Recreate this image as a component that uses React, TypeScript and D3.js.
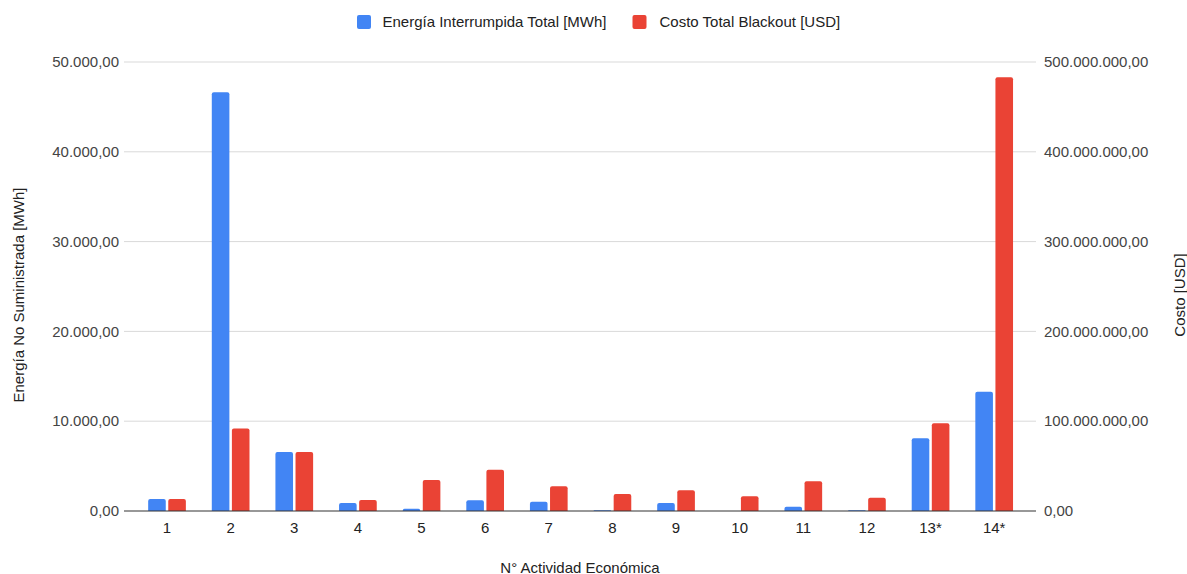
import React from "react";
import * as d3 from "d3";

// Economic activity categories (N° Actividad Económica)
const categories = ["1", "2", "3", "4", "5", "6", "7", "8", "9", "10", "11", "12", "13*", "14*"];

// Energía Interrumpida Total [MWh] (left axis)
const energyMWh = [1340, 46630, 6570, 890, 250, 1190, 1040, 80, 890, 0, 480, 80, 8100, 13290];

// Costo Total Blackout [USD] (right axis)
const costUSD = [
  13400000, 92000000, 65700000, 12200000, 34500000, 46000000, 27500000,
  19000000, 23000000, 16300000, 33000000, 14800000, 97600000, 483000000,
];

const leftTicks = [0, 10000, 20000, 30000, 40000, 50000];
const rightTicks = [0, 100000000, 200000000, 300000000, 400000000, 500000000];

const seriesNames = ["Energía Interrumpida Total [MWh]", "Costo Total Blackout [USD]"];
const seriesColors = ["#4285F4", "#EA4335"];

const W = 1187;
const H = 574;
const FONT = "'Liberation Sans', Arial, sans-serif";
const FS = 15;

// Spanish number format: "." thousands, "," decimals
const fmt = d3.formatLocale({
  decimal: ",",
  thousands: ".",
  grouping: [3],
  currency: ["$", ""],
}).format(",.2f");

function barPath(x: number, y: number, w: number, h: number, r: number) {
  if (h <= 0) return "";
  const rr = Math.min(r, h, w / 2);
  return `M${x},${y + h}V${y + rr}Q${x},${y} ${x + rr},${y}H${x + w - rr}Q${x + w},${y} ${x + w},${y + rr}V${y + h}Z`;
}

export default function App() {
  const plotLeft = 135.2;
  const plotRight = 1026;
  const gridLeft = 124;
  const gridRight = 1036;
  const top = 62;
  const bottom = 511;

  const x = d3.scaleBand<string>().domain(categories).range([plotLeft, plotRight]).paddingInner(0).paddingOuter(0);
  const yL = d3.scaleLinear().domain([0, 50000]).range([bottom, top]);
  const yR = d3.scaleLinear().domain([0, 500000000]).range([bottom, top]);

  const groupW = 37.7;
  const barW = 17.6;
  const gap = groupW - 2 * barW;

  return (
    <svg
      width={W}
      height={H}
      style={{ position: "absolute", left: 0, top: 0, background: "#fff" }}
      fontFamily={FONT}
    >
      <rect width={W} height={H} fill="#fff" />

      {/* legend */}
      <g fontSize={FS} fill="#222">
        <rect x={357} y={15} width={14} height={14} rx={2} fill={seriesColors[0]} />
        <text x={382.5} y={27}>{seriesNames[0]}</text>
        <rect x={632.5} y={15} width={14} height={14} rx={2} fill={seriesColors[1]} />
        <text x={659.5} y={27}>{seriesNames[1]}</text>
      </g>

      {/* gridlines */}
      {leftTicks.slice(1).map((t) => (
        <line key={t} x1={gridLeft} x2={gridRight} y1={yL(t)} y2={yL(t)} stroke="#d9d9d9" strokeWidth={1} />
      ))}

      {/* bars */}
      {categories.map((c, i) => {
        const cx = (x(c) as number) + x.bandwidth() / 2;
        const x0 = cx - groupW / 2;
        const hE = bottom - yL(energyMWh[i]);
        const hC = bottom - yR(costUSD[i]);
        return (
          <g key={c}>
            <path d={barPath(x0, yL(energyMWh[i]), barW, hE, 2)} fill={seriesColors[0]} />
            <path d={barPath(x0 + barW + gap, yR(costUSD[i]), barW, hC, 2)} fill={seriesColors[1]} />
          </g>
        );
      })}

      {/* baseline */}
      <line x1={gridLeft} x2={gridRight} y1={bottom} y2={bottom} stroke="#333" strokeWidth={1.2} />

      {/* left axis labels */}
      <g fontSize={FS} fill="#444" textAnchor="end">
        {leftTicks.map((t) => (
          <text key={t} x={119} y={yL(t) + 5.2}>{fmt(t)}</text>
        ))}
      </g>

      {/* right axis labels */}
      <g fontSize={FS} fill="#444" textAnchor="start">
        {rightTicks.map((t) => (
          <text key={t} x={1044} y={yR(t) + 5.2}>{fmt(t)}</text>
        ))}
      </g>

      {/* category labels */}
      <g fontSize={FS} fill="#222" textAnchor="middle">
        {categories.map((c) => (
          <text key={c} x={(x(c) as number) + x.bandwidth() / 2} y={532.5}>{c}</text>
        ))}
      </g>

      {/* axis titles */}
      <text x={580} y={572.5} fontSize={FS} fill="#222" textAnchor="middle">N° Actividad Económica</text>
      <text transform={`translate(24,295) rotate(-90)`} fontSize={FS} fill="#222" textAnchor="middle">
        Energía No Suministrada [MWh]
      </text>
      <text transform={`translate(1185,295) rotate(-90)`} fontSize={FS} fill="#222" textAnchor="middle">
        Costo [USD]
      </text>
    </svg>
  );
}
